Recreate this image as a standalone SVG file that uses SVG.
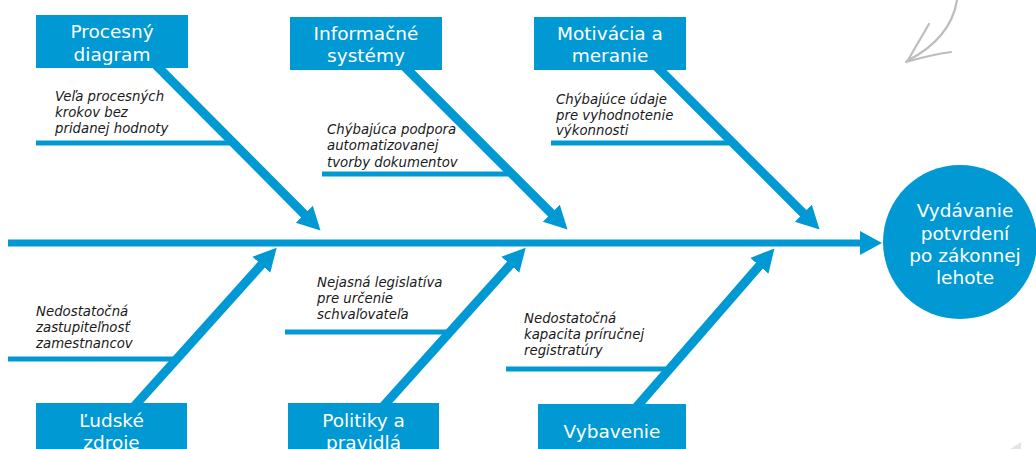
<svg xmlns="http://www.w3.org/2000/svg" width="1036" height="449" viewBox="0 0 1036 449">
  <defs>
    <style>
      .bone { fill: none; stroke: #0099D4; stroke-width: 9; stroke-linecap: butt; }
      .spine { fill: none; stroke: #0099D4; stroke-width: 7; }
      .rib { fill: none; stroke: #0099D4; stroke-width: 5; }
      .box { fill: #0099D4; }
      .head { font-family: "DejaVu Sans", Verdana, sans-serif; font-size: 18.5px; fill: #ffffff; text-anchor: middle; }
      .cause { font-family: "DejaVu Sans", Verdana, sans-serif; font-size: 13.3px; font-style: italic; fill: #1a1a1a; }
      .sketch { fill: none; stroke: #bdbdbd; stroke-width: 2.2; stroke-linecap: round; stroke-linejoin: round; }
    </style>
    <marker id="tip" markerUnits="userSpaceOnUse" markerWidth="26" markerHeight="26" viewBox="0 -13 26 26" refX="1" refY="0" orient="auto">
      <path d="M0,-12 L23,0 L0,12 z" fill="#0099D4"/>
    </marker>
    <marker id="tipMain" markerUnits="userSpaceOnUse" markerWidth="26" markerHeight="28" viewBox="0 -14 26 28" refX="1" refY="0" orient="auto">
      <path d="M0,-12 L22,0 L0,12 z" fill="#0099D4"/>
    </marker>
  </defs>

  <rect width="1036" height="449" fill="#ffffff"/>

  <!-- pencil arrow sketch in the corner -->
  <g id="sketch-arrow">
    <path class="sketch" d="M957,0 C953,26 936,46 907,61"/>
    <path class="sketch" d="M929,24 C922,36 915,48 908,60"/>
    <path class="sketch" d="M906,62 C920,58 936,54 951,52"/>
    <polygon points="1010,449 1021,442 1021,449" fill="#e4e4e4"/>
  </g>

  <!-- fishbone connectors -->
  <g id="connectors">
    <line class="spine" x1="8" y1="243" x2="861" y2="243" marker-end="url(#tipMain)"/>

    <line class="bone" x1="147" y1="56" x2="305" y2="215" marker-end="url(#tip)"/>
    <line class="bone" x1="398" y1="60" x2="552" y2="214" marker-end="url(#tip)"/>
    <line class="bone" x1="650" y1="60" x2="804" y2="214" marker-end="url(#tip)"/>

    <line class="bone" x1="130" y1="411" x2="262" y2="264" marker-end="url(#tip)"/>
    <line class="bone" x1="379" y1="411" x2="511" y2="264" marker-end="url(#tip)"/>
    <line class="bone" x1="633" y1="411" x2="760" y2="265" marker-end="url(#tip)"/>

    <line class="rib" x1="36" y1="143" x2="230" y2="143"/>
    <line class="rib" x1="322" y1="174" x2="509" y2="174"/>
    <line class="rib" x1="551" y1="143" x2="729" y2="143"/>
    <line class="rib" x1="8" y1="359" x2="174" y2="359"/>
    <line class="rib" x1="285" y1="332" x2="449" y2="332"/>
    <line class="rib" x1="506" y1="369" x2="667" y2="369"/>
  </g>

  <!-- category boxes -->
  <g id="procesny-diagram">
    <rect class="box" x="36" y="15" width="152" height="53"/>
    <text class="head" x="112" y="38">Procesný</text>
    <text class="head" x="112" y="61">diagram</text>
  </g>
  <g id="informacne-systemy">
    <rect class="box" x="290" y="17" width="152" height="53"/>
    <text class="head" x="366" y="40">Informačné</text>
    <text class="head" x="366" y="62">systémy</text>
  </g>
  <g id="motivacia-a-meranie">
    <rect class="box" x="534" y="17" width="152" height="53"/>
    <text class="head" x="610" y="40">Motivácia a</text>
    <text class="head" x="610" y="62">meranie</text>
  </g>
  <g id="ludske-zdroje">
    <rect class="box" x="36" y="403" width="151" height="50"/>
    <text class="head" x="111.5" y="427">Ľudské</text>
    <text class="head" x="111.5" y="449">zdroje</text>
  </g>
  <g id="politiky-a-pravidla">
    <rect class="box" x="288" y="403" width="151" height="50"/>
    <text class="head" x="363.5" y="427">Politiky a</text>
    <text class="head" x="363.5" y="449">pravidlá</text>
  </g>
  <g id="vybavenie">
    <rect class="box" x="538" y="404" width="148" height="50"/>
    <text class="head" x="612" y="438">Vybavenie</text>
  </g>

  <!-- effect -->
  <g id="vydavanie-potvrdeni">
    <circle class="box" cx="960" cy="242" r="77"/>
    <text class="head" x="965" y="217">Vydávanie</text>
    <text class="head" x="965" y="240">potvrdení</text>
    <text class="head" x="965" y="262">po zákonnej</text>
    <text class="head" x="965" y="284">lehote</text>
  </g>

  <!-- causes -->
  <g id="cause-procesne-kroky">
    <text class="cause" x="55" y="101">Veľa procesných</text>
    <text class="cause" x="55" y="117">krokov bez</text>
    <text class="cause" x="55" y="133">pridanej hodnoty</text>
  </g>
  <g id="cause-automatizacia">
    <text class="cause" x="327" y="134">Chýbajúca podpora</text>
    <text class="cause" x="327" y="150">automatizovanej</text>
    <text class="cause" x="327" y="167">tvorby dokumentov</text>
  </g>
  <g id="cause-udaje">
    <text class="cause" x="556" y="104">Chýbajúce údaje</text>
    <text class="cause" x="556" y="120">pre vyhodnotenie</text>
    <text class="cause" x="556" y="135">výkonnosti</text>
  </g>
  <g id="cause-zastupitelnost">
    <text class="cause" x="36" y="316">Nedostatočná</text>
    <text class="cause" x="36" y="332">zastupiteľnosť</text>
    <text class="cause" x="36" y="348">zamestnancov</text>
  </g>
  <g id="cause-legislativa">
    <text class="cause" x="317" y="287">Nejasná legislatíva</text>
    <text class="cause" x="317" y="303">pre určenie</text>
    <text class="cause" x="317" y="319">schvaľovateľa</text>
  </g>
  <g id="cause-registratura">
    <text class="cause" x="524" y="323">Nedostatočná</text>
    <text class="cause" x="524" y="339">kapacita príručnej</text>
    <text class="cause" x="524" y="355">registratúry</text>
  </g>
</svg>
